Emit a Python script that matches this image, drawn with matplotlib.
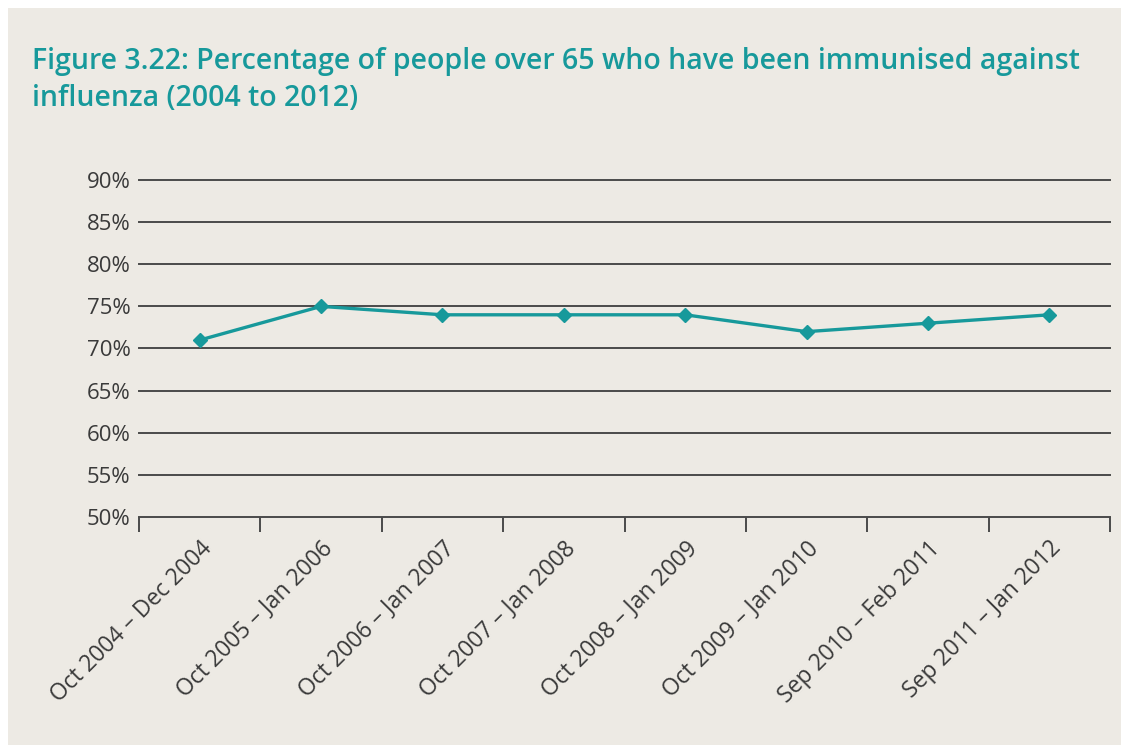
import matplotlib.pyplot as plt
from matplotlib.patches import Rectangle
import numpy as np

# Flu immunisation uptake, people aged 65+
seasons = ['Oct 2004 – Dec 2004', 'Oct 2005 – Jan 2006', 'Oct 2006 – Jan 2007',
           'Oct 2007 – Jan 2008', 'Oct 2008 – Jan 2009', 'Oct 2009 – Jan 2010',
           'Sep 2010 – Feb 2011', 'Sep 2011 – Jan 2012']
uptake = [71, 75, 74, 74, 74, 72, 73, 74]
y_ticks = [50, 55, 60, 65, 70, 75, 80, 85, 90]

teal = '#17999b'
bg = '#edeae4'
grid_col = '#4a4a4a'
text_col = '#3a3a3a'

plt.rcParams['font.family'] = ['Open Sans', 'DejaVu Sans']

fig = plt.figure(figsize=(11.21, 7.47), dpi=100, facecolor='white')
fig.patches.append(Rectangle((8 / 1121, 0.003), 1, 1 - 8 / 747 - 0.003,
                             transform=fig.transFigure, facecolor=bg,
                             edgecolor='none', zorder=-1))

ax = fig.add_axes([139 / 1121, 1 - 517 / 747, (1110 - 139) / 1121, (517 - 180) / 747])
ax.set_facecolor(bg)

x = np.arange(len(seasons))
ax.plot(x, uptake, color=teal, lw=2.4, marker='D', ms=7.5, zorder=3)

ax.set_xlim(-0.5, len(seasons) - 0.5)
ax.set_ylim(50, 90)

for v in y_ticks[1:]:
    ax.axhline(v, color=grid_col, lw=1.4, zorder=1, clip_on=False)

for s in ['top', 'right', 'left']:
    ax.spines[s].set_visible(False)
ax.spines['bottom'].set_color(grid_col)
ax.spines['bottom'].set_linewidth(1.4)

ax.set_yticks(y_ticks)
ax.set_yticklabels([f'{v}%' for v in y_ticks], fontsize=16, color=text_col)
ax.tick_params(axis='y', length=0, pad=6)

# category boundary ticks underneath, labels centred on each point
ax.set_xticks(np.arange(-0.5, len(seasons)), minor=False)
ax.set_xticklabels([])
ax.tick_params(axis='x', which='major', direction='out', length=11, width=1.4, color=grid_col)
ax.set_xticks(x, minor=True)
ax.set_xticklabels(seasons, minor=True, rotation=45, ha='right', va='top',
                   rotation_mode='anchor', fontsize=16.5, color=text_col)
ax.tick_params(axis='x', which='minor', length=0, pad=14)

fig.text(32 / 1121, 1 - 80 / 747,
         'Figure 3.22: Percentage of people over 65 who have been immunised against\ninfluenza (2004 to 2012)',
         color=teal, fontsize=20.5, fontweight='semibold', va='center', ha='left', linespacing=1.4)

fig.savefig('out.png', dpi=100, facecolor=fig.get_facecolor())
